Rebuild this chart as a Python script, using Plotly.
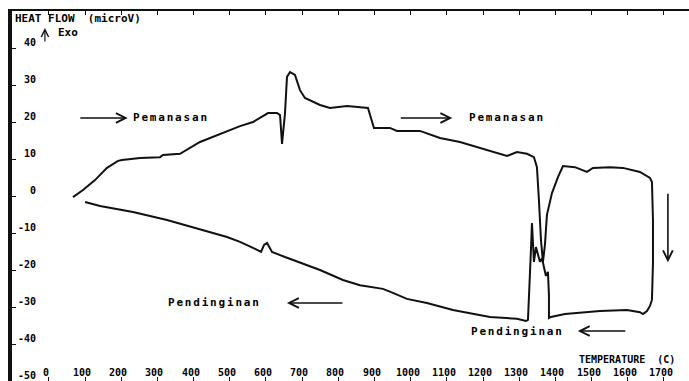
import plotly.graph_objects as go

# Heating run (Pemanasan): temperature in C, heat flow in microV
heat_T = [66.6, 94.3, 127.4, 160.6, 191.0, 202.1, 251.9, 307.1, 315.4, 362.4, 417.7, 464.7,
          500.6, 528.3, 564.2, 605.7, 630.6, 638.9, 644.4, 652.6, 658.1, 666.4, 680.2, 694.0,
          707.8, 749.3, 776.9, 823.9, 881.9, 893.0, 898.5, 942.7, 962.1, 1025.6, 1080.9,
          1136.2, 1191.5, 1238.5, 1266.1, 1293.7, 1321.4, 1340.7, 1349.0, 1354.5, 1360.1,
          1365.6, 1371.1, 1376.6, 1390.5, 1407.1, 1420.9, 1454.1, 1487.2, 1503.8, 1550.8,
          1586.7, 1633.7, 1661.4, 1666.9, 1669.7, 1669.7, 1666.9]
heat_v = [-0.3, 1.6, 4.3, 7.6, 9.5, 9.7, 10.3, 10.5, 11.1, 11.4, 14.6, 16.5,
          17.8, 18.9, 20.0, 22.4, 22.4, 21.9, 14.1, 22.4, 32.2, 33.5, 32.7, 28.6,
          26.5, 24.6, 23.8, 24.3, 23.8, 20.0, 18.4, 18.4, 17.6, 17.6, 15.7,
          14.6, 13.0, 11.6, 10.8, 11.9, 11.4, 10.5, 7.8, -1.1, -11.9,
          -17.8, -13.2, -5.1, 0.8, 5.1, 8.1, 7.8, 6.5, 7.6, 7.8,
          7.6, 6.5, 4.9, 3.8, -6.5, -18.1, -28.1]

# Cooling run (Pendinginan), from 1700 C back down
cool_T = [1666.9, 1661.4, 1653.1, 1642.1, 1633.7, 1597.8, 1523.2, 1476.2, 1426.4, 1387.7,
          1382.2, 1382.2, 1379.4, 1373.9, 1368.4, 1362.9, 1357.3, 1351.8, 1346.3, 1340.7,
          1338.0, 1335.2, 1332.4, 1329.7, 1326.9, 1324.2, 1318.6, 1293.7, 1219.1, 1163.8,
          1116.8, 1044.9, 989.6, 950.9, 923.3, 859.7, 812.7, 749.3, 694.0, 652.6, 616.7,
          603.0, 594.7, 586.4, 570.0, 528.3, 492.4, 453.6, 398.4, 326.5, 232.5, 141.3, 99.8]
cool_v = [-28.1, -29.7, -31.1, -31.9, -31.4, -30.8, -31.1, -31.4, -31.9, -32.7,
          -33.0, -26.8, -20.5, -21.6, -19.5, -16.8, -17.8, -15.4, -13.8, -17.8,
          -11.4, -7.3, -14.6, -20.0, -28.1, -33.5, -33.8, -33.2, -32.7, -31.6,
          -30.8, -28.9, -27.8, -26.2, -25.1, -24.1, -22.7, -20.0, -18.1, -16.5, -15.1,
          -12.7, -13.2, -15.1, -14.3, -12.4, -11.1, -10.0, -8.4, -6.5, -4.3, -2.7, -1.6]

x_ticks = list(range(0, 1800, 100))
y_ticks = list(range(-50, 50, 10))

X_RANGE = [-102.0, 1769.3]
Y_RANGE = [-50, 50.0]

FONT = dict(family="DejaVu Sans Mono", size=10, color="black")
FONT_L = dict(family="DejaVu Sans Mono", size=11, color="black")
INK = "#111111"

fig = go.Figure()
fig.add_trace(go.Scatter(x=heat_T, y=heat_v, mode="lines",
                         line=dict(color=INK, width=2), hoverinfo="skip"))
fig.add_trace(go.Scatter(x=cool_T, y=cool_v, mode="lines",
                         line=dict(color=INK, width=2), hoverinfo="skip"))

ann = []
# axis numbers printed inside the frame
for t in x_ticks:
    ann.append(dict(x=t, y=-50, text=f"<b>{t}</b>", showarrow=False, xshift=-3, yshift=9,
                    xanchor="center", yanchor="middle", font=FONT))
for v in y_ticks:
    ann.append(dict(x=-30, y=v, text=f"<b>{v}</b>", showarrow=False, yshift=6,
                    xanchor="right", yanchor="middle", font=FONT))

ann.append(dict(x=-100, y=48.1, text="<b>HEAT FLOW  (microV)</b>", showarrow=False,
                xanchor="left", yanchor="middle", font=FONT_L))
ann.append(dict(x=20, y=44.3, text="<b>Exo</b>", showarrow=False,
                xanchor="left", yanchor="middle", font=FONT_L))
ann.append(dict(x=1735, y=-44.3, text="<b>TEMPERATURE  (C)</b>", showarrow=False,
                xanchor="right", yanchor="middle", font=FONT))

SP = '<span style="letter-spacing:1.8px">{}</span>'
ann.append(dict(x=227, y=21.3, text="<b>" + SP.format("Pemanasan") + "</b>", showarrow=False,
                xanchor="left", yanchor="middle", font=FONT_L))
ann.append(dict(x=1155, y=21.1, text="<b>" + SP.format("Pemanasan") + "</b>", showarrow=False,
                xanchor="left", yanchor="middle", font=FONT_L))
ann.append(dict(x=323, y=-28.9, text="<b>" + SP.format("Pendinginan") + "</b>", showarrow=False,
                xanchor="left", yanchor="middle", font=FONT_L))
ann.append(dict(x=1160, y=-36.5, text="<b>" + SP.format("Pendinginan") + "</b>", showarrow=False,
                xanchor="left", yanchor="middle", font=FONT_L))

# direction arrows
arrow = dict(showarrow=True, arrowhead=5, arrowsize=1.2, arrowwidth=1.6, arrowcolor=INK,
             text="", axref="pixel", ayref="pixel")
ann.append(dict(arrow, x=218, y=21.1, ax=-49, ay=0))
ann.append(dict(arrow, x=1115, y=21.1, ax=-53, ay=0))
ann.append(dict(arrow, x=658, y=-28.9, ax=57, ay=0))
ann.append(dict(arrow, x=1462, y=-36.5, ax=49, ay=0))
ann.append(dict(arrow, x=1711, y=-17.9, ax=0, ay=-70))
ann.append(dict(arrow, x=-11, y=45.4, ax=0, ay=15, arrowwidth=1.2, arrowhead=5))

fig.update_layout(
    width=689, height=381,
    margin=dict(l=12, r=0, t=11, b=0),
    paper_bgcolor="white", plot_bgcolor="white",
    showlegend=False,
    annotations=ann,
    xaxis=dict(range=X_RANGE, tickvals=x_ticks, ticks="inside", ticklen=4, tickwidth=1,
               tickcolor=INK, showticklabels=False, showgrid=False, zeroline=False,
               showline=True, mirror="ticks", linewidth=2, linecolor=INK),
    yaxis=dict(range=Y_RANGE, tickvals=y_ticks, ticks="inside", ticklen=4, tickwidth=1,
               tickcolor=INK, showticklabels=False, showgrid=False, zeroline=False,
               showline=True, mirror=False, linewidth=4, linecolor=INK),
)

fig.write_html("out.html")
